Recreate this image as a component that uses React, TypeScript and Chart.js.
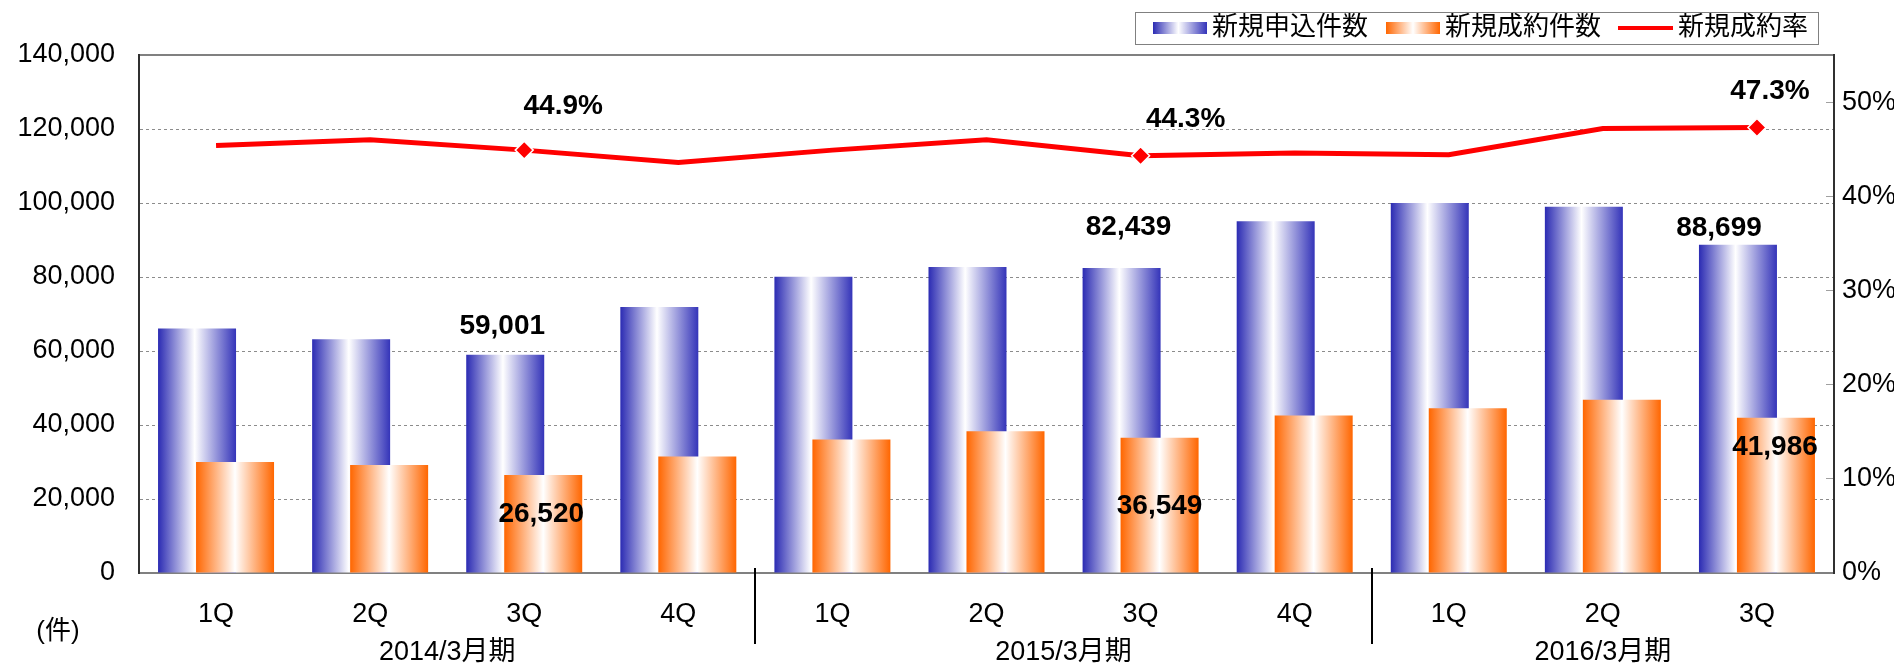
import React, { useEffect, useRef } from 'react';
import { Chart, registerables } from 'chart.js';

Chart.register(...registerables);

// ---------------- data ----------------
const quarters = ['1Q', '2Q', '3Q', '4Q', '1Q', '2Q', '3Q', '4Q', '1Q', '2Q', '3Q'];
const fiscalYears = ['2014/3月期', '2015/3月期', '2016/3月期'];
const quartersPerYear = [4, 4, 3];
const applications = [66100, 63200, 59001, 71900, 80100, 82700, 82439, 95100, 100000, 99000, 88699];
const contracts = [30000, 29200, 26520, 31500, 36100, 38300, 36549, 42600, 44500, 46800, 41986];
const contractRate = [45.4, 46.0, 44.9, 43.6, 44.9, 46.0, 44.3, 44.6, 44.4, 47.2, 47.3];
const highlightIdx = [2, 6, 10];
const seriesNames = ['新規申込件数', '新規成約件数', '新規成約率'];
const unitLabel = '(件)';
const leftMax = 140000;
const leftStep = 20000;
const rightMax = 55;
const rightStep = 10;

// ---------------- styles ----------------
const FONT = '"Liberation Sans", Arial, "Noto Sans CJK JP", sans-serif';
const CAT_PCT = 0.4932;
const BAR_PCT = 2.0526;
const BLUE_STOPS: [number, string][] = [[0, '#2B2BB3'], [0.47, '#FFFFFF'], [1, '#3434B9']];
const ORANGE_STOPS: [number, string][] = [[0, '#FF6600'], [0.5, '#FFFFFF'], [1, '#FF6600']];
// label offsets (px) relative to the mark, per highlighted index
const blueLabelOffsets = [[-3, -28], [7, -41], [-19, -17]];
const orangeLabelOffsets = [[-2, 39], [0, 69], [-1, 30]];
const rateLabelOffsets = [[39, -44], [45, -36], [13, -36]];

function barGradient(stops: [number, string][], side: number) {
  return (ctx: any) => {
    const chart = ctx.chart;
    const xs = chart.scales && chart.scales.x;
    if (!xs || ctx.dataIndex == null || !xs.width) return stops[0][1];
    const w = xs.width / quarters.length;
    const chunk = (w * CAT_PCT) / 2;
    const center = xs.getPixelForValue(ctx.dataIndex) + (side * chunk) / 2;
    const half = (chunk * BAR_PCT) / 2;
    const g = chart.ctx.createLinearGradient(center - half, 0, center + half, 0);
    stops.forEach(([p, c]) => g.addColorStop(p, c));
    return g;
  };
}

function swatch(stops: [number, string][] | null, w: number, h: number, color?: string) {
  const c = document.createElement('canvas');
  c.width = w;
  c.height = h;
  const x = c.getContext('2d')!;
  if (stops) {
    const g = x.createLinearGradient(0, 0, w, 0);
    stops.forEach(([p, col]) => g.addColorStop(p, col));
    x.fillStyle = g;
  } else {
    x.fillStyle = color || '#000';
  }
  x.fillRect(0, 0, w, h);
  return c;
}

const orderPlugin = {
  id: 'orderPlugin',
  beforeDatasetDraw(chart: any, args: any) {
    if (args.index === 1) return false;
    return true;
  },
  afterDatasetDraw(chart: any, args: any) {
    if (args.index === 0) {
      const meta = chart.getDatasetMeta(1);
      if (meta && meta.controller) meta.controller.draw();
    }
  },
};

const labelPlugin = {
  id: 'labelPlugin',
  afterDatasetsDraw(chart: any) {
    const ctx = chart.ctx;
    ctx.save();
    ctx.font = `bold 28px ${FONT}`;
    ctx.fillStyle = '#000';
    ctx.textAlign = 'center';
    ctx.textBaseline = 'middle';
    const fmt = (v: number) => v.toLocaleString('en-US');
    const series: [number, number[], number[][], (v: number) => string][] = [
      [0, applications, blueLabelOffsets, fmt],
      [1, contracts, orangeLabelOffsets, fmt],
      [2, contractRate, rateLabelOffsets, (v) => v.toFixed(1) + '%'],
    ];
    series.forEach(([dsIdx, values, offs, f]) => {
      const meta = chart.getDatasetMeta(dsIdx);
      highlightIdx.forEach((i, k) => {
        const el = meta.data[i];
        if (!el) return;
        ctx.fillText(f(values[i]), el.x + offs[k][0], el.y + offs[k][1]);
      });
    });
    ctx.restore();
  },
};

const decorPlugin = {
  id: 'decorPlugin',
  afterDraw(chart: any) {
    const ctx = chart.ctx;
    const xs = chart.scales.x;
    const bottom = chart.chartArea.bottom;
    ctx.save();
    // fiscal year labels & separators
    ctx.font = `27px ${FONT}`;
    ctx.fillStyle = '#000';
    ctx.textAlign = 'center';
    ctx.textBaseline = 'middle';
    let start = 0;
    fiscalYears.forEach((label, k) => {
      const end = start + quartersPerYear[k] - 1;
      const cx = (xs.getPixelForValue(start) + xs.getPixelForValue(end)) / 2;
      ctx.fillText(label, cx, bottom + 80);
      if (k < fiscalYears.length - 1) {
        const sx = Math.round((xs.getPixelForValue(end) + xs.getPixelForValue(end + 1)) / 2);
        ctx.strokeStyle = '#000';
        ctx.lineWidth = 2;
        ctx.beginPath();
        ctx.moveTo(sx, bottom - 5);
        ctx.lineTo(sx, bottom + 71);
        ctx.stroke();
      }
      start = end + 1;
    });
    ctx.font = `26px ${FONT}`;
    ctx.fillText(unitLabel, 58, bottom + 59);
    // legend frame
    const hb = chart.legend && chart.legend.legendHitBoxes;
    if (hb && hb.length) {
      const first = hb[0];
      const last = hb[hb.length - 1];
      const l = Math.round(first.left - 26) + 0.5;
      const r = Math.round(last.left + last.width + 10) + 0.5;
      const t = Math.round(first.top - 3) + 0.5;
      const b = Math.round(first.top + first.height + 3) + 0.5;
      ctx.strokeStyle = '#808080';
      ctx.lineWidth = 1;
      ctx.strokeRect(l, t, r - l, b - t);
    }
    ctx.restore();
  },
};

export default function App() {
  const ref = useRef<HTMLCanvasElement | null>(null);

  useEffect(() => {
    document.body.style.margin = '0';
    if (!ref.current) return;
    const blueSw = swatch(BLUE_STOPS, 54, 12);
    const orangeSw = swatch(ORANGE_STOPS, 54, 12);
    const redSw = swatch(null, 55, 4, '#FF0000');
    const swatches = [blueSw, orangeSw, redSw];

    const chart = new Chart(ref.current, {
      type: 'bar',
      data: {
        labels: quarters,
        datasets: [
          {
            type: 'bar',
            label: seriesNames[0],
            data: applications,
            backgroundColor: barGradient(BLUE_STOPS, -1) as any,
            borderWidth: 0,
            categoryPercentage: CAT_PCT,
            barPercentage: BAR_PCT,
            yAxisID: 'y',
            xAxisID: 'x',
            order: 1,
          },
          {
            type: 'bar',
            label: seriesNames[1],
            data: contracts,
            backgroundColor: barGradient(ORANGE_STOPS, 1) as any,
            borderWidth: 0,
            categoryPercentage: CAT_PCT,
            barPercentage: BAR_PCT,
            yAxisID: 'y',
            xAxisID: 'x',
            order: 1,
          },
          {
            type: 'line',
            label: seriesNames[2],
            data: contractRate,
            borderColor: '#FF0000',
            borderWidth: 5,
            backgroundColor: '#FF0000',
            pointStyle: 'rectRot',
            pointRadius: (c: any) => (highlightIdx.includes(c.dataIndex) ? 9 : 0),
            pointBackgroundColor: '#FF0000',
            pointBorderColor: '#FFFFFF',
            pointBorderWidth: 1.5,
            tension: 0,
            yAxisID: 'y1',
            xAxisID: 'x',
            order: 0,
          } as any,
        ],
      },
      options: {
        responsive: false,
        animation: false,
        layout: { padding: { top: -11, left: 0, right: 0, bottom: 0 } },
        plugins: {
          tooltip: { enabled: false },
          legend: {
            display: true,
            position: 'top',
            align: 'end',
            fullSize: false,
            labels: {
              usePointStyle: true,
              pointStyleWidth: 38,
              padding: 26,
              color: '#000',
              font: { family: FONT, size: 26 },
              generateLabels: () =>
                seriesNames.map((name, i) => ({
                  text: name,
                  pointStyle: swatches[i] as any,
                  fillStyle: 'transparent',
                  strokeStyle: 'transparent',
                  lineWidth: 0,
                  hidden: false,
                  datasetIndex: i,
                  fontColor: '#000',
                })),
            },
          },
        },
        scales: {
          x: {
            type: 'category',
            position: 'bottom',
            offset: true,
            grid: { display: false },
            border: { display: true, color: '#808080', width: 2 },
            ticks: {
              color: '#000',
              font: { family: FONT, size: 27 },
              padding: 17,
              maxRotation: 0,
              autoSkip: false,
            },
            afterFit: (s: any) => {
              s.height = 94;
            },
          },
          xTop: {
            type: 'category',
            position: 'top',
            labels: quarters,
            grid: { display: false },
            border: { display: false },
            ticks: { display: false },
            afterFit: (s: any) => {
              s.height = 4;
            },
          } as any,
          y: {
            type: 'linear',
            position: 'left',
            min: 0,
            max: leftMax,
            ticks: {
              stepSize: leftStep,
              color: '#000',
              font: { family: FONT, size: 27 },
              padding: 24,
              callback: (v: any) => Number(v).toLocaleString('en-US'),
            },
            grid: {
              drawTicks: false,
              color: (c: any) =>
                c.tick && c.tick.value === leftMax ? '#808080' : c.tick && c.tick.value === 0 ? 'rgba(0,0,0,0)' : '#8C8C8C',
              lineWidth: (c: any) => (c.tick && c.tick.value === leftMax ? 2 : 1),
            },
            border: {
              display: true,
              color: '#303030',
              width: 2,
              dash: (c: any) => (c.tick && c.tick.value !== leftMax ? [3, 3] : []),
            },
            afterFit: (s: any) => {
              s.width = 139;
            },
          } as any,
          y1: {
            type: 'linear',
            position: 'right',
            min: 0,
            max: rightMax,
            ticks: {
              stepSize: rightStep,
              includeBounds: false,
              color: '#000',
              font: { family: FONT, size: 27 },
              padding: 16,
              callback: (v: any) => v + '%',
            },
            grid: {
              drawOnChartArea: false,
              drawTicks: true,
              tickLength: -8,
              tickColor: '#A0A0A0',
              tickWidth: 1,
            },
            border: { display: true, color: '#303030', width: 2 },
            afterFit: (s: any) => {
              s.width = 60;
            },
          } as any,
        },
      },
      plugins: [orderPlugin, labelPlugin, decorPlugin],
    });
    return () => chart.destroy();
  }, []);

  return (
    <div style={{ width: 1894, height: 667 }}>
      <canvas ref={ref} width={1894} height={667} style={{ display: 'block' }} />
    </div>
  );
}
